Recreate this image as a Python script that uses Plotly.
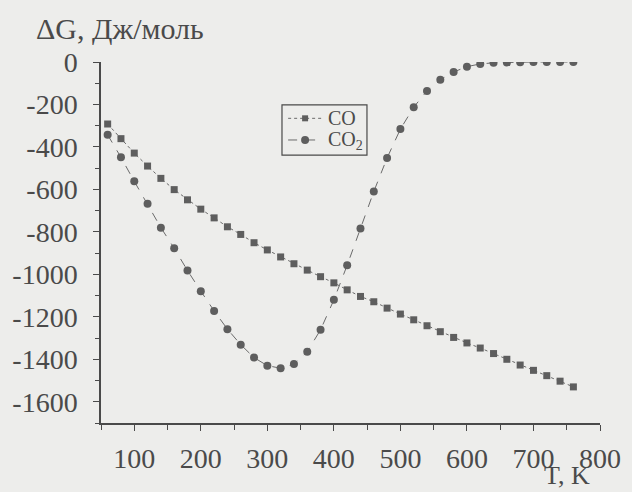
import plotly.graph_objects as go

T = [60, 80, 100, 120, 140, 160, 180, 200, 220, 240, 260, 280, 300, 320, 340, 360,
     380, 400, 420, 440, 460, 480, 500, 520, 540, 560, 580, 600, 620, 640, 660, 680,
     700, 720, 740, 760]

dG_CO = [-292, -361, -429, -490, -548, -601, -649, -693, -734, -776, -812, -851,
         -885, -918, -950, -980, -1011, -1040, -1073, -1104, -1129, -1159, -1187, -1214,
         -1242, -1270, -1297, -1323, -1347, -1373, -1400, -1427, -1452, -1477, -1503, -1530]

dG_CO2 = [-343, -449, -562, -668, -780, -877, -982, -1079, -1172, -1258, -1331, -1392,
          -1430, -1442, -1422, -1364, -1261, -1120, -957, -784, -610, -452, -316, -213,
          -136, -84, -47, -22, -9, -4, -2, -1, 0, 0, 0, 0]

x_ticks = [100, 200, 300, 400, 500, 600, 700, 800]
y_ticks = [0, -200, -400, -600, -800, -1000, -1200, -1400, -1600]
y_ticktext = ["0", "-200", "-400", "-600", "-800", "-1000", "-1200", "-1400", "-1600"]

ink = "#4a4a4a"
mark = "#5e5e5e"
paper = "#ededeb"
font_family = "Liberation Serif, Times New Roman, serif"

fig = go.Figure()
fig.add_trace(go.Scatter(
    x=T, y=dG_CO, name="CO", mode="lines+markers",
    line=dict(color="#6a6a6a", width=1, dash="dot"),
    marker=dict(symbol="square", size=7, color=mark),
))
fig.add_trace(go.Scatter(
    x=T, y=dG_CO2, name="CO2", mode="lines+markers",
    line=dict(color="#6a6a6a", width=1, dash="dash"),
    marker=dict(symbol="circle", size=8, color=mark),
))

# manual legend (box, sample lines, markers, labels)
shapes = [
    dict(type="rect", xref="paper", yref="paper", x0=0.3627, x1=0.533, y0=0.742, y1=0.881,
         line=dict(color=ink, width=1.2), fillcolor=paper, layer="above"),
    dict(type="line", xref="paper", yref="paper", x0=0.375, x1=0.447, y0=0.844, y1=0.844,
         line=dict(color="#6a6a6a", width=1, dash="dot")),
    dict(type="line", xref="paper", yref="paper", x0=0.375, x1=0.447, y0=0.784, y1=0.784,
         line=dict(color="#6a6a6a", width=1, dash="dash")),
    dict(type="rect", xref="paper", yref="paper", xsizemode="pixel", ysizemode="pixel",
         xanchor=0.409, yanchor=0.844, x0=-3, x1=3, y0=-3, y1=3,
         fillcolor=mark, line=dict(width=0)),
    dict(type="circle", xref="paper", yref="paper", xsizemode="pixel", ysizemode="pixel",
         xanchor=0.409, yanchor=0.784, x0=-4, x1=4, y0=-4, y1=4,
         fillcolor=mark, line=dict(width=0)),
]

fig.update_layout(
    width=632, height=492,
    margin=dict(l=101, r=32, t=62, b=69),
    paper_bgcolor=paper, plot_bgcolor=paper,
    font=dict(family=font_family, color=ink, size=28),
    showlegend=False,
    shapes=shapes,
    xaxis=dict(
        range=[50, 800], tickvals=x_ticks, showgrid=False, zeroline=False,
        showline=True, linecolor=ink, linewidth=1.5,
        ticks="outside", ticklen=6, tickcolor=ink, tickwidth=1.2,
        minor=dict(tickvals=[50, 150, 250, 350, 450, 550, 650, 750], ticks="outside",
                   ticklen=5, tickcolor=ink, tickwidth=1.2),
        tickfont=dict(size=28), ticklabelstandoff=4,
    ),
    yaxis=dict(
        range=[-1700, 0], tickvals=y_ticks, ticktext=y_ticktext,
        showgrid=False, zeroline=False,
        showline=True, linecolor=ink, linewidth=1.5,
        ticks="outside", ticklen=6, tickcolor=ink, tickwidth=1.2,
        minor=dict(tickvals=[-100, -300, -500, -700, -900, -1100, -1300, -1500, -1700],
                   ticks="outside", ticklen=4, tickcolor=ink, tickwidth=1.2),
        tickfont=dict(size=28), ticklabelstandoff=10,
    ),
    annotations=[
        dict(text="ΔG, Дж/моль", xref="paper", yref="paper", x=-0.134, y=1.092,
             xanchor="left", yanchor="middle", showarrow=False,
             font=dict(size=30, family=font_family, color=ink)),
        dict(text="T, K", xref="paper", yref="paper", x=0.982, y=-0.1884,
             xanchor="right", yanchor="bottom", showarrow=False, borderpad=0,
             font=dict(size=26, family=font_family, color=ink)),
        dict(text="CO", xref="paper", yref="paper", x=0.451, y=0.846,
             xanchor="left", yanchor="middle", showarrow=False,
             font=dict(size=20, family=font_family, color=ink)),
        dict(text="CO<sub>2</sub>", xref="paper", yref="paper", x=0.451, y=0.782,
             xanchor="left", yanchor="middle", showarrow=False,
             font=dict(size=20, family=font_family, color=ink)),
    ],
)

fig.write_html("out.html")
